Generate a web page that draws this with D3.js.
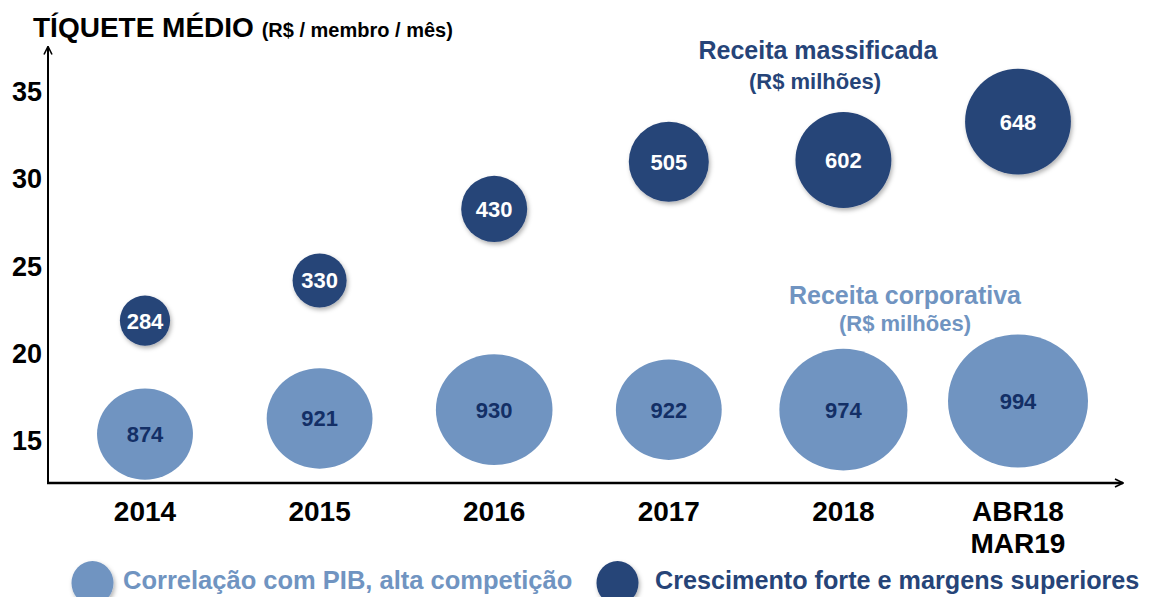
<!DOCTYPE html>
<html>
<head>
<meta charset="utf-8">
<script src="https://cdn.jsdelivr.net/npm/d3@7"></script>
<style>
  body { margin: 0; background: #fff; }
  svg { display: block; font-family: "Liberation Sans", Arial, sans-serif; font-weight: bold; }
</style>
</head>
<body>
<svg width="1153" height="597"></svg>
<script>
// categories on the x axis (second line after "|")
const categories = ["2014", "2015", "2016", "2017", "2018", "ABR18|MAR19"];
const yTicks = [15, 20, 25, 30, 35];

// receita massificada (dark bubbles)
const massRevenue = [284, 330, 430, 505, 602, 648];
const massTicket = [21.9, 24.2, 28.3, 31.0, 31.1, 33.3];
const massSize = [6.3, 7.3, 10.9, 16, 23, 28];

// receita corporativa (light bubbles)
const corpRevenue = [874, 921, 930, 922, 974, 994];
const corpTicket = [15.4, 16.3, 16.8, 16.8, 16.8, 17.3];
const corpSize = [23, 28, 34, 28, 41, 49];

const dark = "#264478";
const light = "#7094c1";
const lightText = "#132f66";

const svg = d3.select("svg");

const defs = svg.append("defs");
defs.append("filter")
    .attr("id", "shadow")
    .attr("x", "-30%").attr("y", "-30%")
    .attr("width", "160%").attr("height", "160%")
  .append("feDropShadow")
    .attr("dx", 1.5).attr("dy", 2.5)
    .attr("stdDeviation", 2)
    .attr("flood-color", "#000")
    .attr("flood-opacity", 0.3);

defs.append("marker")
    .attr("id", "arrow")
    .attr("viewBox", "0 0 10 10")
    .attr("refX", 9).attr("refY", 5)
    .attr("markerWidth", 10).attr("markerHeight", 10)
    .attr("markerUnits", "userSpaceOnUse")
    .attr("orient", "auto")
  .append("path")
    .attr("d", "M1,1 L9,5 L1,9")
    .attr("fill", "none")
    .attr("stroke", "#000")
    .attr("stroke-width", 1.6);

const x = d3.scalePoint().domain(categories).range([145, 1018]);
const y = d3.scaleLinear().domain([12.6, 37.6]).range([483, 46.5]);
const r = d3.scaleSqrt().domain([0, 49]).range([0, 70]);

const x0 = 48;

// y axis labels
const yAxis = svg.append("g")
    .attr("transform", `translate(${x0 - 6},0)`)
    .call(d3.axisLeft(y).tickValues(yTicks).tickSize(0).tickPadding(0));
yAxis.select(".domain").remove();
yAxis.selectAll("text")
    .attr("font-size", 27)
    .attr("font-family", "Liberation Sans, Arial, sans-serif")
    .attr("font-weight", "bold")
    .attr("fill", "#000");

// axis lines with arrows
svg.append("line")
    .attr("x1", x0).attr("y1", y(12.6))
    .attr("x2", x0).attr("y2", y(37.6))
    .attr("stroke", "#000").attr("stroke-width", 2)
    .attr("marker-end", "url(#arrow)");
svg.append("line")
    .attr("x1", x0 - 1).attr("y1", y(12.6))
    .attr("x2", 1123).attr("y2", y(12.6))
    .attr("stroke", "#000").attr("stroke-width", 2.5)
    .attr("marker-end", "url(#arrow)");

// x labels
const xLab = svg.append("g")
    .selectAll("text")
    .data(categories)
    .enter()
    .append("text")
    .attr("x", (d)=> x(d))
    .attr("y", 521)
    .attr("text-anchor", "middle")
    .attr("font-size", 28)
    .attr("fill", "#000");
xLab.each(function(d) {
    const parts = d.split("|");
    d3.select(this).selectAll("tspan")
        .data(parts)
        .enter()
        .append("tspan")
        .attr("x", x(d))
        .attr("dy", (p, i)=> i === 0 ? 0 : 32)
        .text((p)=> p);
});

// bubbles
const corp = categories.map((c, i)=> ({cat: c, v: corpRevenue[i], t: corpTicket[i], s: corpSize[i]}));
const mass = categories.map((c, i)=> ({cat: c, v: massRevenue[i], t: massTicket[i], s: massSize[i]}));

svg.selectAll("corp")
    .data(corp)
    .enter()
    .append("ellipse")
    .attr("cx", (d)=> x(d.cat))
    .attr("cy", (d)=> y(d.t))
    .attr("rx", (d)=> r(d.s))
    .attr("ry", (d)=> r(d.s) * 0.95)
    .attr("fill", light);

svg.selectAll("corp_lbl")
    .data(corp)
    .enter()
    .append("text")
    .attr("x", (d)=> x(d.cat))
    .attr("y", (d)=> y(d.t) + 8)
    .attr("text-anchor", "middle")
    .attr("font-size", 22)
    .attr("fill", lightText)
    .text((d)=> d.v);

svg.selectAll("mass")
    .data(mass)
    .enter()
    .append("circle")
    .attr("cx", (d)=> x(d.cat))
    .attr("cy", (d)=> y(d.t))
    .attr("r", (d)=> r(d.s))
    .attr("fill", dark)
    .attr("filter", "url(#shadow)");

svg.selectAll("mass_lbl")
    .data(mass)
    .enter()
    .append("text")
    .attr("x", (d)=> x(d.cat))
    .attr("y", (d)=> y(d.t) + 8)
    .attr("text-anchor", "middle")
    .attr("font-size", 22)
    .attr("fill", "#fff")
    .text((d)=> d.v);

// title
const title = svg.append("text")
    .attr("x", 33).attr("y", 37)
    .attr("fill", "#000");
title.append("tspan").attr("font-size", 28).text("TÍQUETE MÉDIO ");
title.append("tspan").attr("font-size", 20).text("(R$ / membro / mês)");

// series annotations
svg.append("text")
    .attr("x", 818).attr("y", 59)
    .attr("text-anchor", "middle")
    .attr("font-size", 25).attr("fill", dark)
    .text("Receita massificada");
svg.append("text")
    .attr("x", 815).attr("y", 89)
    .attr("text-anchor", "middle")
    .attr("font-size", 22).attr("fill", dark)
    .text("(R$ milhões)");
svg.append("text")
    .attr("x", 905).attr("y", 304)
    .attr("text-anchor", "middle")
    .attr("font-size", 25).attr("fill", light)
    .text("Receita corporativa");
svg.append("text")
    .attr("x", 905).attr("y", 331)
    .attr("text-anchor", "middle")
    .attr("font-size", 22).attr("fill", light)
    .text("(R$ milhões)");

// legend
svg.append("ellipse")
    .attr("cx", 92.5).attr("cy", 583)
    .attr("rx", 21).attr("ry", 22)
    .attr("fill", light)
    .attr("filter", "url(#shadow)");
svg.append("text")
    .attr("x", 123).attr("y", 589)
    .attr("font-size", 25.5).attr("fill", light)
    .text("Correlação com PIB, alta competição");
svg.append("ellipse")
    .attr("cx", 617.5).attr("cy", 583)
    .attr("rx", 21).attr("ry", 22)
    .attr("fill", dark)
    .attr("filter", "url(#shadow)");
svg.append("text")
    .attr("x", 655).attr("y", 589)
    .attr("font-size", 25.2).attr("fill", dark)
    .text("Crescimento forte e margens superiores");
</script>
</body>
</html>
